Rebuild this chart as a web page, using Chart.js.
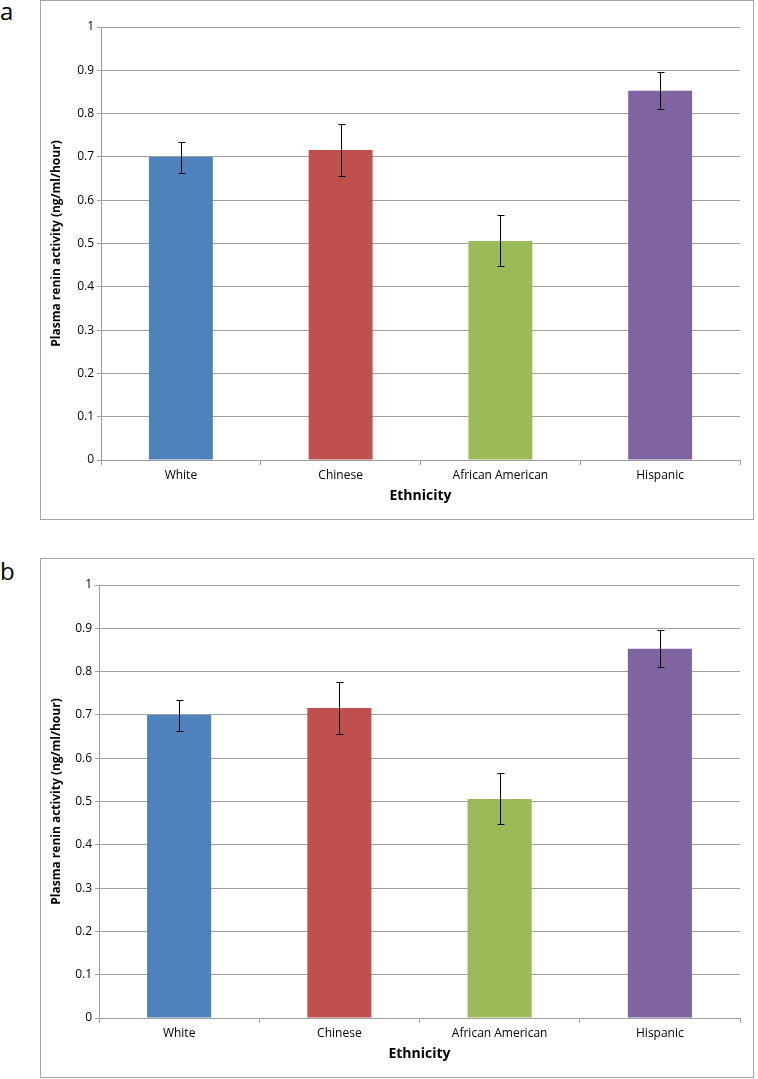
<!DOCTYPE html>
<html>
<head>
<meta charset="utf-8">
<script src="https://cdn.jsdelivr.net/npm/chart.js@4.4.0/dist/chart.umd.min.js"></script>
<style>
  body { margin: 0; background: #fff; width: 758px; height: 1079px; position: relative; overflow: hidden; font-family: "Open Sans", sans-serif; }
  .panel { position: absolute; border: 1px solid #a6a6a6; box-sizing: content-box; }
  .lbl { position: absolute; font-family: "Open Sans", sans-serif; font-size: 24px; color: #000; }
</style>
</head>
<body>
<div class="lbl" style="left:0px;top:-6px;">a</div>
<div class="panel" style="left:40px;top:0px;width:712px;height:518px;"><canvas id="chartA"></canvas></div>
<div class="lbl" style="left:0px;top:554px;">b</div>
<div class="panel" style="left:40px;top:558px;width:712px;height:518px;"><canvas id="chartB"></canvas></div>
<script>
// data
const categories = ['White', 'Chinese', 'African American', 'Hispanic']
const renin = [0.700, 0.716, 0.506, 0.853]
const errLow = [0.663, 0.656, 0.449, 0.810]
const errHigh = [0.735, 0.776, 0.565, 0.896]
const yTicks = [0, 0.1, 0.2, 0.3, 0.4, 0.5, 0.6, 0.7, 0.8, 0.9, 1]
const barColors = ['#4f81bd', '#c0504d', '#9bbb59', '#8064a2']
const yTitle = 'Plasma renin activity (ng/ml/hour)'

// black error whiskers on top of the bars
const errorBars = {
  id: 'errorBars',
  afterDatasetsDraw(chart) {
    const ctx = chart.ctx
    const y = chart.scales.y
    const meta = chart.getDatasetMeta(0)
    ctx.save()
    ctx.strokeStyle = '#000'
    ctx.lineWidth = 1
    meta.data.forEach((bar, i) => {
      const x = Math.round(bar.x) + 0.5
      const top = Math.round(y.getPixelForValue(errHigh[i])) + 0.5
      const bot = Math.round(y.getPixelForValue(errLow[i])) + 0.5
      ctx.beginPath()
      ctx.moveTo(x, top); ctx.lineTo(x, bot)
      ctx.moveTo(x - 3, top); ctx.lineTo(x + 4, top)
      ctx.moveTo(x - 3, bot); ctx.lineTo(x + 4, bot)
      ctx.stroke()
    })
    ctx.restore()
  }
}

// y axis title, drawn here so it can sit closer to the tick labels
const yAxisTitle = {
  id: 'yAxisTitle',
  afterDraw(chart) {
    const ctx = chart.ctx
    const a = chart.chartArea
    ctx.save()
    ctx.translate(15.5, (a.top + a.bottom) / 2)
    ctx.rotate(-Math.PI / 2)
    ctx.font = 'bold 12px "Open Sans"'
    ctx.fillStyle = '#000'
    ctx.textAlign = 'center'
    ctx.textBaseline = 'middle'
    ctx.fillText(yTitle, 0, 0)
    ctx.restore()
  }
}

function makeChart(id, leftW) {
  const cv = document.getElementById(id)
  cv.width = 712; cv.height = 518
  cv.style.width = '712px'; cv.style.height = '518px'
  return new Chart(cv, {
    type: 'bar',
    data: {
      labels: categories,
      datasets: [{
        label: 'Plasma renin activity',
        data: renin,
        backgroundColor: barColors,
        borderWidth: 0,
        barPercentage: 0.4,
        categoryPercentage: 1.0
      }]
    },
    options: {
      responsive: false,
      animation: false,
      layout: { padding: { left: 0, top: 26, right: 13, bottom: 15 } },
      plugins: { legend: { display: false }, tooltip: { enabled: false } },
      scales: {
        x: {
          offset: true,
          grid: { display: true, drawOnChartArea: false, drawTicks: true, tickLength: 5, color: '#a0a0a0', offset: true },
          border: { color: '#a0a0a0' },
          ticks: { color: '#000', font: { family: 'Open Sans', size: 12 }, padding: 3, maxRotation: 0 },
          title: { display: true, text: 'Ethnicity', color: '#000', font: { family: 'Open Sans', size: 14, weight: 'bold' }, padding: { top: 0, bottom: 0 } },
          afterFit(s) { s.height = 44 }
        },
        y: {
          min: 0, max: 1,
          afterBuildTicks(s) { s.ticks = yTicks.map(v => ({ value: v })) },
          grid: { color: '#a0a0a0', tickLength: 4 },
          border: { color: '#a0a0a0' },
          ticks: { color: '#000', font: { family: 'Open Sans', size: 12 }, padding: 3,
            callback: v => String(Math.round(v * 10) / 10) },
          afterFit(s) { s.width = leftW }
        }
      }
    },
    plugins: [errorBars, yAxisTitle]
  })
}

makeChart('chartA', 60)
makeChart('chartB', 58)
</script>
</body>
</html>
